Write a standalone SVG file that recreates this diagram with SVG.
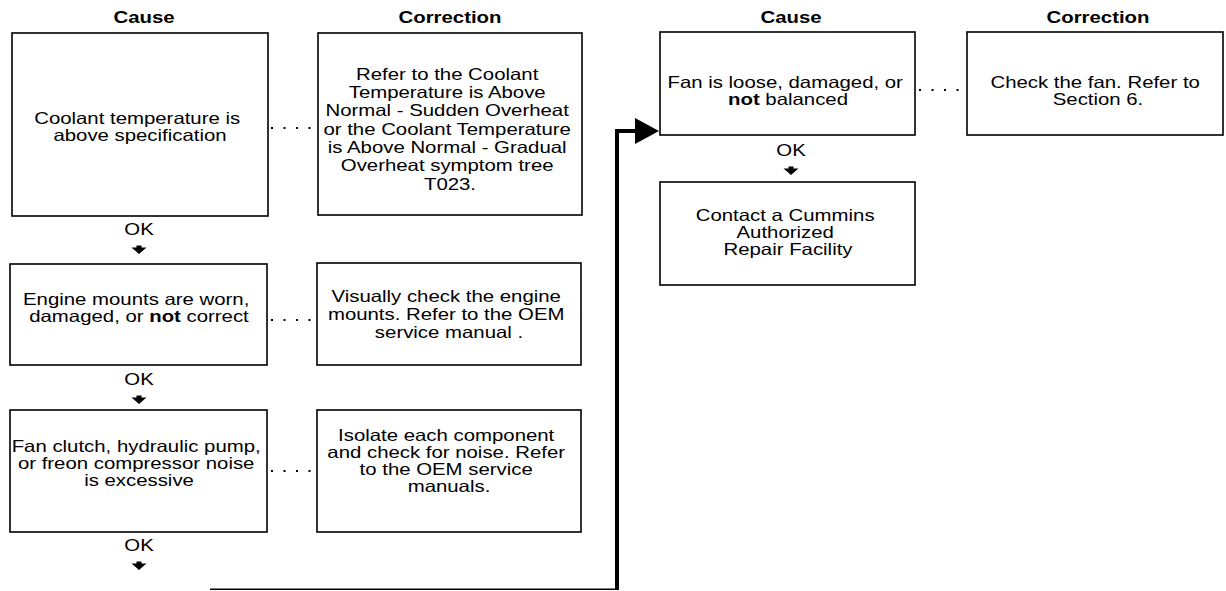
<svg xmlns="http://www.w3.org/2000/svg" width="1226" height="591" viewBox="0 0 1226 591">
  <style>
    .box { fill: #fff; stroke: #000; stroke-width: 1.6; }
    .t { font-family: "Liberation Sans", Arial, Helvetica, sans-serif; font-size: 16.3px; fill: #000; text-anchor: middle; }
    .h { font-weight: bold; }
    .b { font-weight: bold; }
    .dots { stroke: #000; stroke-width: 2; stroke-dasharray: 2 10.5; fill: none; }
    .thick { stroke: #000; stroke-width: 4; fill: none; }
    .thin { stroke: #000; stroke-width: 1.4; fill: none; }
    .ah { fill: #000; }
  </style>
  <rect width="1226" height="591" fill="#fff"/>

  <!-- column headers -->
  <g id="headers">
    <text class="t h" transform="translate(144 0) scale(1.25 1)" x="0" y="23">Cause</text>
    <text class="t h" transform="translate(450 0) scale(1.25 1)" x="0" y="23">Correction</text>
    <text class="t h" transform="translate(791 0) scale(1.25 1)" x="0" y="23">Cause</text>
    <text class="t h" transform="translate(1098 0) scale(1.25 1)" x="0" y="23">Correction</text>
  </g>

  <!-- connectors: dotted cause/correction links, OK arrows, jump to next column -->
  <g id="connectors">
    <line class="dots" x1="271" y1="128" x2="312" y2="128"/>
    <line class="dots" x1="271" y1="320" x2="312" y2="320"/>
    <line class="dots" x1="271" y1="471" x2="312" y2="471"/>
    <line class="dots" x1="919" y1="90" x2="962" y2="90"/>

    <text class="t" transform="translate(139 0) scale(1.25 1)" x="0" y="235">OK</text>
    <path class="ah" d="M136.5 245.5 h5 v2 h5 l-7.5 6.5 l-7.5 -6.5 h5 z"/>
    <text class="t" transform="translate(139 0) scale(1.25 1)" x="0" y="385">OK</text>
    <path class="ah" d="M136.5 395.5 h5 v2 h5 l-7.5 6.5 l-7.5 -6.5 h5 z"/>
    <text class="t" transform="translate(139 0) scale(1.25 1)" x="0" y="551">OK</text>
    <path class="ah" d="M136.5 561.5 h5 v2 h5 l-7.5 6.5 l-7.5 -6.5 h5 z"/>
    <text class="t" transform="translate(791 0) scale(1.25 1)" x="0" y="156">OK</text>
    <path class="ah" d="M788.5 166.5 h5 v2 h5 l-7.5 6.5 l-7.5 -6.5 h5 z"/>

    <polyline class="thin" points="210,589.3 617,589.3"/>
    <polyline class="thick" points="617,590 617,131 638,131"/>
    <polygon class="ah" points="635,118 659,131 635,144"/>
  </g>

  <g id="cause-coolant">
    <rect class="box" x="12" y="33" width="256" height="183"/>
    <text class="t" transform="translate(140 0) scale(1.25 1)">
      <tspan x="0" y="124">Coolant temperature is</tspan>
      <tspan x="0" y="141">above specification</tspan>
    </text>
  </g>

  <g id="correction-coolant">
    <rect class="box" x="318" y="33" width="264" height="182"/>
    <text class="t" transform="translate(450 0) scale(1.25 1)">
      <tspan x="0" y="80">Refer to the Coolant</tspan>
      <tspan x="0" y="98">Temperature is Above</tspan>
      <tspan x="0" y="116.5">Normal - Sudden Overheat</tspan>
      <tspan x="0" y="135">or the Coolant Temperature</tspan>
      <tspan x="0" y="153">is Above Normal - Gradual</tspan>
      <tspan x="0" y="171.5">Overheat symptom tree</tspan>
      <tspan x="0" y="190">T023.</tspan>
    </text>
  </g>

  <g id="cause-mounts">
    <rect class="box" x="10" y="264" width="257" height="101"/>
    <text class="t" transform="translate(139 0) scale(1.25 1)">
      <tspan x="0" y="305">Engine mounts are worn,</tspan>
      <tspan x="0" y="322">damaged, or <tspan class="b">not</tspan> correct</tspan>
    </text>
  </g>

  <g id="correction-mounts">
    <rect class="box" x="317" y="263" width="264" height="102"/>
    <text class="t" transform="translate(449 0) scale(1.25 1)">
      <tspan x="0" y="302">Visually check the engine</tspan>
      <tspan x="0" y="320">mounts. Refer to the OEM</tspan>
      <tspan x="0" y="338">service manual .</tspan>
    </text>
  </g>

  <g id="cause-accessory-noise">
    <rect class="box" x="10" y="410" width="257" height="122"/>
    <text class="t" transform="translate(139 0) scale(1.25 1)">
      <tspan x="0" y="452">Fan clutch, hydraulic pump,</tspan>
      <tspan x="0" y="469">or freon compressor noise</tspan>
      <tspan x="0" y="486">is excessive</tspan>
    </text>
  </g>

  <g id="correction-accessory-noise">
    <rect class="box" x="317" y="410" width="264" height="122"/>
    <text class="t" transform="translate(449 0) scale(1.25 1)">
      <tspan x="0" y="441">Isolate each component</tspan>
      <tspan x="0" y="458">and check for noise. Refer</tspan>
      <tspan x="0" y="475">to the OEM service</tspan>
      <tspan x="0" y="492">manuals.</tspan>
    </text>
  </g>

  <g id="cause-fan">
    <rect class="box" x="660" y="32" width="255" height="103"/>
    <text class="t" transform="translate(788 0) scale(1.25 1)">
      <tspan x="0" y="88">Fan is loose, damaged, or</tspan>
      <tspan x="0" y="105"><tspan class="b">not</tspan> balanced</tspan>
    </text>
  </g>

  <g id="correction-fan">
    <rect class="box" x="967" y="32" width="256" height="103"/>
    <text class="t" transform="translate(1098 0) scale(1.25 1)">
      <tspan x="0" y="88">Check the fan. Refer to</tspan>
      <tspan x="0" y="105">Section 6.</tspan>
    </text>
  </g>

  <g id="contact-repair">
    <rect class="box" x="660" y="182" width="255" height="103"/>
    <text class="t" transform="translate(788 0) scale(1.25 1)">
      <tspan x="0" y="221">Contact a Cummins</tspan>
      <tspan x="0" y="238">Authorized</tspan>
      <tspan x="0" y="255">Repair Facility</tspan>
    </text>
  </g>
</svg>
